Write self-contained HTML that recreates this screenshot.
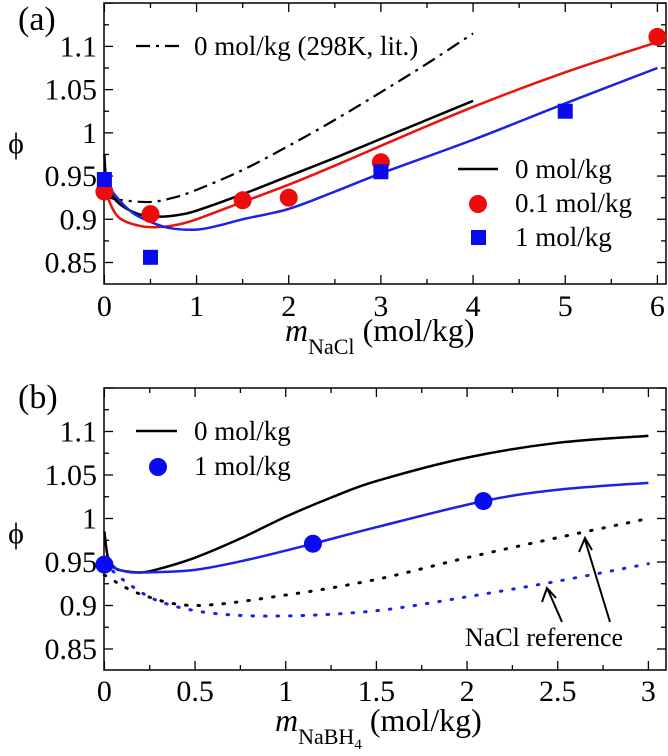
<!DOCTYPE html>
<html><head><meta charset="utf-8"><style>
html,body{margin:0;padding:0;background:#fff}
svg{display:block}
text{font-family:"Liberation Serif",serif;fill:#000}
</style></head><body>
<svg id="fig" width="668" height="756" viewBox="0 0 668 756"></svg>
<script>
// ---------- Data: panel (a) ----------
const aBlackX=[0,0.02,0.08,0.2,0.4,0.6,0.8,1,1.5,2,2.5,3,3.5,4];
const aBlackY=[0.975,0.945,0.928,0.915,0.905,0.903,0.905,0.91,0.929,0.95,0.971,0.993,1.015,1.037];
const aLitX=[0.05,0.2,0.5,0.75,1,1.5,2,2.5,3,3.5,4];
const aLitY=[0.925,0.922,0.92,0.925,0.934,0.957,0.985,1.015,1.047,1.08,1.115];
const aRedX=[0,0.1,0.2,0.4,0.6,0.8,1,1.5,2,2.5,3,4,5,6];
const aRedY=[0.935,0.91,0.899,0.892,0.891,0.894,0.9,0.92,0.94,0.962,0.985,1.03,1.07,1.105];
const aBlueX=[0,0.1,0.3,0.5,0.7,1,1.25,1.5,2,2.5,3,4,5,6];
const aBlueY=[0.95,0.93,0.908,0.897,0.89,0.888,0.893,0.9,0.912,0.932,0.953,0.992,1.034,1.075];
const aRedPtX=[0,0.5,1.5,2,3,6];
const aRedPtY=[0.932,0.906,0.922,0.925,0.966,1.111];
const aSqX=[0,0.5,3,5];
const aSqY=[0.946,0.856,0.955,1.025];
const aXTicks=[0,1,2,3,4,5,6];
const yTicks=[0.85,0.9,0.95,1,1.05,1.1];
const yTickLabels=["0.85","0.9","0.95","1","1.05","1.1"];
// ---------- Data: panel (b) ----------
const bBlackX=[0,0.02,0.06,0.1,0.2,0.3,0.5,0.75,1,1.25,1.5,2,2.5,3];
const bBlackY=[0.985,0.955,0.943,0.94,0.938,0.942,0.955,0.977,1.002,1.024,1.043,1.07,1.087,1.095];
const bBlueX=[0,0.1,0.2,0.5,0.8,1.15,1.5,2.09,2.5,3];
const bBlueY=[0.948,0.94,0.938,0.941,0.953,0.971,0.99,1.02,1.033,1.041];
const bBlackDotX=[0,0.2,0.5,1,1.5,2,2.5,3];
const bBlackDotY=[0.935,0.913,0.9,0.912,0.93,0.955,0.978,1.0];
const bBlueDotX=[0,0.1,0.3,0.6,1,1.5,2,2.5,3];
const bBlueDotY=[0.95,0.93,0.905,0.891,0.888,0.894,0.91,0.928,0.948];
const bPtX=[0,1.15,2.09];
const bPtY=[0.947,0.971,1.02];
const bXTicks=[0,0.5,1,1.5,2,2.5,3];
const bXTickLabels=["0","0.5","1","1.5","2","2.5","3"];

const NS="http://www.w3.org/2000/svg";
const svg=document.getElementById('fig');
function mk(tag,attrs,parent){const e=document.createElementNS(NS,tag);for(const k in attrs)e.setAttribute(k,attrs[k]);(parent||svg).appendChild(e);return e;}
function txt(s,x,y,size,anchor){const t=mk('text',{x:x,y:y,'font-size':size,'text-anchor':anchor||'start'});t.textContent=s;return t;}
function smooth(pts){let d='M'+pts[0][0]+','+pts[0][1];for(let i=0;i<pts.length-1;i++){const p0=pts[Math.max(0,i-1)],p1=pts[i],p2=pts[i+1],p3=pts[Math.min(pts.length-1,i+2)];const c1=[p1[0]+(p2[0]-p0[0])/6,p1[1]+(p2[1]-p0[1])/6],c2=[p2[0]-(p3[0]-p1[0])/6,p2[1]-(p3[1]-p1[1])/6];d+=' C'+c1[0]+','+c1[1]+' '+c2[0]+','+c2[1]+' '+p2[0]+','+p2[1];}return d;}

function panel(o){
  const g=mk('g',{});
  
  
  const sx=v=>o.x0+(v-o.xmin)*(o.x1-o.x0)/(o.xmax-o.xmin);
  const sy=v=>o.yA+(v-0.85)*(o.yB-o.yA)/(0.25);
  const fr=mk('rect',{x:o.L,y:o.T,width:o.R-o.L,height:o.B-o.T,fill:'none',stroke:'#000','stroke-width':1.5},g);
  
  
  for(let v=o.xmin;v<=o.xmax+1e-9;v+=o.xminor){const X=sx(v);const major=Math.abs(v/o.xmajor-Math.round(v/o.xmajor))<1e-6;const l=major?9:5;
    mk('line',{x1:X,y1:o.B,x2:X,y2:o.B-l,stroke:'#000','stroke-width':1.3},g);mk('line',{x1:X,y1:o.T,x2:X,y2:o.T+l,stroke:'#000','stroke-width':1.3},g);}
  for(let v=0.825;v<=1.15+1e-9;v+=0.025){const Y=sy(v);if(Y<o.T||Y>o.B)continue;const major=Math.abs(v/0.05-Math.round(v/0.05))<1e-6;const l=major?9:5;
    mk('line',{x1:o.L,y1:Y,x2:o.L+l,y2:Y,stroke:'#000','stroke-width':1.3},g);mk('line',{x1:o.R,y1:Y,x2:o.R-l,y2:Y,stroke:'#000','stroke-width':1.3},g);}
  o.xt.forEach((v,i)=>{const t=txt(o.xtl[i],sx(v),o.xlabY,30,'middle');g.appendChild(t);
    
    });
  yTicks.forEach((v,i)=>{const t=txt(yTickLabels[i],97,sy(v)+10,30,'end');g.appendChild(t);
    
    });
  return {g,sx,sy};
}
function curve(p,xs,ys,color,dash,name,w){const pts=xs.map((x,i)=>[p.sx(x),p.sy(ys[i])]);const a={d:smooth(pts),fill:'none',stroke:color,'stroke-width':w||2.5};if(dash)a['stroke-dasharray']=dash;if(dash&&dash.startsWith('1.'))a['stroke-linecap']='round';const e=mk('path',a,p.g);
  
  return e;}
function circles(p,xs,ys,color,name){xs.forEach((x,i)=>{const c=mk('ellipse',{cx:p.sx(x),cy:p.sy(ys[i]),rx:9,ry:9,fill:color},p.g);
  
  });}
function squares(p,xs,ys,color,name){xs.forEach((x,i)=>{const c=mk('rect',{x:p.sx(x)-7.5,y:p.sy(ys[i])-7.5,width:15,height:15,fill:color},p.g);
  
  });}

// ---------- Panel (a) ----------
const A=panel({name:'panel-a',L:104,R:666,T:3,B:284,x0:104.4,x1:657.4,xmin:0,xmax:6,yA:262.5,yB:46.4,xminor:0.5,xmajor:1,xt:aXTicks,xtl:aXTicks.map(String),xlabY:316});
curve(A,aLitX,aLitY,'#000','14,6,3,6','lit-298k-line',2.2);
curve(A,aBlackX,aBlackY,'#000',null,'zero-molal-line');
curve(A,aRedX,aRedY,'#e8130c',null,'point1-molal-line');
curve(A,aBlueX,aBlueY,'#1a22e6',null,'one-molal-line');
circles(A,aRedPtX,aRedPtY,'#ee0b0b','point1-molal-point');
squares(A,aSqX,aSqY,'#0a0aee','one-molal-point');
{let t=txt('(a)',18,30,34);
 let l=mk('line',{x1:136,y1:46,x2:180,y2:46,stroke:'#000','stroke-width':2.2,'stroke-dasharray':'14,6,3,6'});
 t=txt('0 mol/kg (298K, lit.)',194,55,27);
 l=mk('line',{x1:458,y1:169,x2:498,y2:169,stroke:'#000','stroke-width':2.5});
 t=txt('0 mol/kg',515,178,27);
 l=mk('ellipse',{cx:478,cy:204,rx:9,ry:9,fill:'#ee0b0b'});
 t=txt('0.1 mol/kg',515,212,27);
 l=mk('rect',{x:471,y:230,width:15,height:15,fill:'#0a0aee'});
 t=txt('1 mol/kg',515,246,27);
 t=txt('ϕ',16,153,30,'middle');
 t=mk('text',{x:285,y:341,'font-size':32});t.innerHTML='<tspan font-style="italic">m</tspan><tspan font-size="22" dy="13">NaCl</tspan><tspan dy="-13"> (mol/kg)</tspan>';
 }

// ---------- Panel (b) ----------
const Bp=panel({name:'panel-b',L:104,R:666,T:388,B:670,x0:104.4,x1:648.4,xmin:0,xmax:3,yA:649,yB:431.5,xminor:0.25,xmajor:0.5,xt:bXTicks,xtl:bXTickLabels,xlabY:701});
curve(Bp,bBlackDotX,bBlackDotY,'#000','1.5,11','nacl-ref-zero-dotted',3);
curve(Bp,bBlueDotX,bBlueDotY,'#1a22e6','1.5,11','nacl-ref-one-dotted',3);
curve(Bp,bBlackX,bBlackY,'#000',null,'nabh4-zero-line');
curve(Bp,bBlueX,bBlueY,'#1a22e6',null,'nabh4-one-line');
circles(Bp,bPtX,bPtY,'#0a0aee','nabh4-one-point');
{let t=txt('(b)',18,408,34);
 let l=mk('line',{x1:136,y1:431,x2:177,y2:431,stroke:'#000','stroke-width':2.5});
 t=txt('0 mol/kg',194,440,27);
 l=mk('ellipse',{cx:158,cy:467,rx:9,ry:9,fill:'#0a0aee'});
 t=txt('1 mol/kg',194,475,27);
 t=txt('NaCl reference',465,646,26);
 l=mk('path',{d:'M562,622 L548,590 M542,602 L547,588 L556,598',fill:'none',stroke:'#000','stroke-width':2});
 l=mk('path',{d:'M610,622 L585,540 M579,552 L585,538 L592,550',fill:'none',stroke:'#000','stroke-width':2});
 t=txt('ϕ',16,543,30,'middle');
 t=mk('text',{x:275,y:731,'font-size':32});t.innerHTML='<tspan font-style="italic">m</tspan><tspan font-size="22" dy="13">NaBH</tspan><tspan font-size="15" dy="5">4</tspan><tspan dy="-18"> (mol/kg)</tspan>';
 }
</script>
</body></html>
